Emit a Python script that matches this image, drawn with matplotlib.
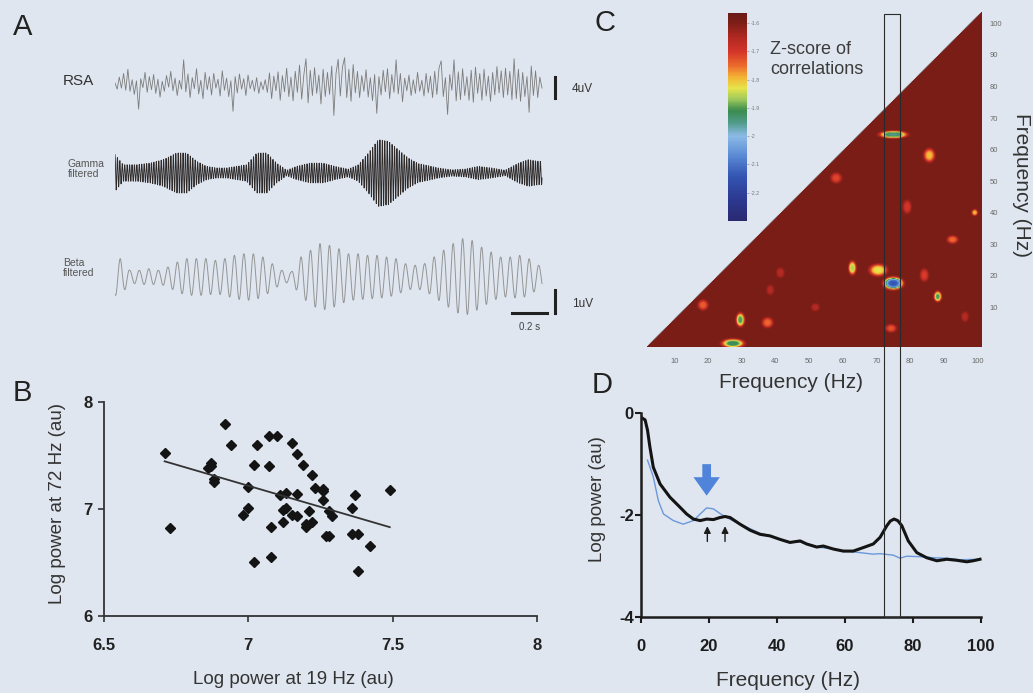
import numpy as np
import matplotlib.pyplot as plt
import matplotlib.transforms as mtransforms
from matplotlib.colors import LinearSegmentedColormap
from matplotlib.patches import Rectangle

plt.rcParams['font.family'] = ['Liberation Sans', 'DejaVu Sans']

W, H = 1033, 693
BG = '#dfe6ef'

# ---- A: example traces (uV) ----
trace_dur = 2.44  # s
rsa_uv = [
    0.4, -0.8, 1.5, -0.6, 2.2, -1.0, 3.0, -1.2, 1.0, -1.8,
    0.8, -4.6, 1.2, -0.5, 2.4, -1.4, 1.6, -0.9, 2.0, -1.6,
    1.1, -2.3, 0.7, -1.2, 1.8, -0.4, 2.6, -1.1, 1.3, -2.0,
    0.9, -0.8, 4.8, -1.3, 2.1, -2.4, 1.4, -0.7, 3.1, -1.7,
    0.9, -2.6, 2.4, -0.9, 1.6, -1.9, 2.2, -0.6, 1.1, -2.1,
    2.7, -1.0, 1.3, -2.2, 0.8, -5.0, 1.6, -1.5, 2.1, -0.8,
    1.2, -2.0, 1.9, -0.7, 0.9, -1.2, 1.4, -1.6, 0.6, -0.9,
    1.0, -1.4, 2.3, -2.6, 1.7, -1.1, 2.5, -2.9, 1.8, -1.3,
    3.2, -2.2, 1.5, -3.0, 2.6, -1.4, 3.8, -2.7, 1.9, 5.0,
    -3.4, 2.8, -2.0, 3.3, -1.6, 1.9, -3.6, 3.0, -2.2, 2.4,
    -1.8, 3.6, -5.8, 2.2, 4.9, -2.1, 3.4, 5.2, -2.4, 3.0,
    -3.1, 3.9, -1.5, 2.6, -2.4, 1.8, -1.2, 2.9, -2.3, 1.4,
    -3.0, 2.0, -5.4, 1.6, -1.9, 2.8, -1.3, 3.1, -2.6, 2.0,
    -1.4, 4.8, -1.7, 2.2, -3.2, 1.3, -1.1, 1.9, -2.0, 1.0,
    -1.6, 2.4, -1.2, 0.9, -2.1, 2.2, -1.5, 1.7, -2.4, 2.6,
    -1.8, 3.2, 4.6, -2.2, 1.4, -5.6, 2.0, -1.0, 4.8, -3.0,
    2.5, -2.8, 3.1, -2.0, 1.6, -2.9, 2.8, -3.3, 3.4, -1.6,
    2.2, -2.9, 3.0, -2.1, 1.7, -3.1, 2.4, -1.9, 3.5, -1.5,
    2.7, -2.4, 3.2, -1.9, 2.6, -2.8, 5.0, -2.6, 3.0, -3.1,
    2.4, -2.2, 1.6, -5.2, 3.6, -2.0, 2.7, -2.4, 1.5, -0.6,
]
gamma_freq = 72.0
gamma_env_t = [0.0, 0.047, 0.124, 0.2, 0.276, 0.352, 0.41, 0.467, 0.524, 0.581,
               0.638, 0.695, 0.752, 0.81, 0.867, 0.924, 0.981, 1.038, 1.114, 1.19,
               1.257, 1.333, 1.39, 1.448, 1.505, 1.562, 1.619, 1.676, 1.733, 1.79,
               1.848, 1.924, 2.0, 2.076, 2.152, 2.229, 2.305, 2.362, 2.419, 2.44]
gamma_env_uv = [0.80, 0.36, 0.36, 0.43, 0.58, 0.87, 0.87, 0.51, 0.29, 0.22,
                0.22, 0.29, 0.36, 0.87, 0.87, 0.43, 0.12, 0.29, 0.43, 0.43,
                0.29, 0.17, 0.36, 0.87, 1.45, 1.38, 1.01, 0.65, 0.41, 0.32,
                0.22, 0.14, 0.17, 0.29, 0.22, 0.12, 0.43, 0.58, 0.51, 0.51]
beta_freq = 18.4
beta_env_uv = [0.80, 0.29, 0.29, 0.36, 0.29, 0.43, 0.65, 0.80, 0.80, 0.80,
               0.72, 0.80, 0.94, 1.01, 1.01, 0.87, 0.58, 0.29, 0.22, 0.87,
               1.16, 1.45, 1.38, 1.23, 1.01, 1.01, 0.94, 0.94, 0.87, 0.80,
               0.58, 0.51, 0.58, 0.87, 1.16, 1.45, 1.67, 1.59, 1.30, 1.09,
               0.87, 0.87, 0.94, 0.80, 0.51]

# ---- B: log power at 19 Hz vs 72 Hz ----
pow19 = [6.71, 6.73, 6.92, 6.94, 7.03, 7.07, 7.10, 7.15, 7.17, 7.19, 7.22, 7.02, 7.07,
         6.87, 6.87, 6.86, 6.88, 6.88, 7.00, 7.00, 6.98, 7.02, 7.08, 7.08, 7.11, 7.13,
         7.17, 7.12, 7.13, 7.15, 7.17, 7.12, 7.21, 7.20, 7.22, 7.20, 7.23, 7.26, 7.26,
         7.26, 7.28, 7.29, 7.27, 7.28, 7.36, 7.37, 7.36, 7.38, 7.42, 7.38, 7.49]
pow72 = [7.52, 6.82, 7.79, 7.60, 7.60, 7.68, 7.68, 7.62, 7.51, 7.41, 7.32, 7.41, 7.40,
         7.43, 7.40, 7.38, 7.28, 7.25, 7.21, 7.01, 6.94, 6.50, 6.55, 6.83, 7.13, 7.15,
         7.14, 6.99, 7.01, 6.94, 6.93, 6.88, 6.98, 6.86, 6.88, 6.83, 7.20, 7.19, 7.17,
         7.08, 6.98, 6.93, 6.75, 6.75, 7.01, 7.13, 6.77, 6.77, 6.65, 6.42, 7.18]
fit_slope, fit_intercept = -0.789, 12.74

# ---- C: z-scored cross-frequency correlations ----
z_base = -1.595
spot_fx = [75.0, 85.7, 58.0, 79.1, 99.2, 92.6, 62.8, 70.5, 75.0, 84.2,
           41.4, 88.2, 96.3, 38.4, 18.4, 29.5, 37.6, 51.8, 74.3, 27.3]
spot_fy = [64.9, 58.3, 51.1, 41.9, 40.1, 31.5, 22.5, 21.8, 17.6, 20.2,
           21.0, 13.4, 7.0, 15.5, 10.7, 6.0, 5.1, 10.0, 3.3, -1.5]
spot_z = [-1.95, -1.80, -1.72, -1.70, -1.80, -1.75, -1.86, -1.83, -2.14, -1.71,
          -1.66, -1.90, -1.66, -1.66, -1.74, -1.90, -1.75, -1.66, -1.73, -1.92]
spot_wx = [3.2, 1.3, 1.3, 1.0, 0.7, 1.3, 0.9, 2.1, 2.2, 1.0,
           1.0, 0.9, 0.9, 0.9, 1.2, 1.0, 1.3, 1.0, 1.3, 2.6]
spot_wy = [0.9, 1.7, 1.3, 1.7, 0.8, 1.0, 1.7, 1.5, 1.5, 1.6,
           1.3, 1.3, 1.3, 1.3, 1.3, 1.7, 1.3, 1.0, 1.0, 1.1]
cbar_ticks = [-1.6, -1.7, -1.8, -1.9, -2.0, -2.1, -2.2]
cbar_labels = ['-1.6', '-1.7', '-1.8', '-1.9', '-2', '-2.1', '-2.2']

# ---- D: power spectra ----
rsa_f = [0.6, 1.3, 2.0, 2.7, 3.7, 5.7, 8.6, 11.6, 13.5, 15.5, 17.5, 19.4, 21.4, 23.3,
         24.8, 26.3, 29.2, 32.2, 35.1, 38.0, 41.0, 43.9, 45.9, 46.9, 48.8, 51.8, 53.7,
         56.7, 59.6, 62.5, 65.5, 68.4, 70.4, 72.4, 73.4, 74.5, 75.6, 76.8, 78.7, 81.2,
         84.1, 87.1, 90.0, 92.9, 95.9, 97.8, 99.8]
rsa_logp = [-0.10, -0.13, -0.33, -0.66, -1.06, -1.39, -1.65, -1.85, -1.98, -2.08, -2.11,
            -2.08, -2.09, -2.05, -2.03, -2.05, -2.18, -2.30, -2.38, -2.41, -2.48, -2.54,
            -2.52, -2.51, -2.57, -2.63, -2.61, -2.67, -2.71, -2.71, -2.64, -2.57, -2.44,
            -2.21, -2.12, -2.08, -2.11, -2.21, -2.51, -2.74, -2.84, -2.90, -2.87, -2.89,
            -2.92, -2.90, -2.87]
base_f = [2.0, 3.7, 5.2, 6.7, 9.6, 12.5, 15.5, 17.5, 19.4, 21.4, 23.3, 25.3, 28.2, 31.2,
          35.1, 38.0, 41.0, 43.9, 46.9, 51.8, 56.7, 60.6, 64.5, 68.4, 70.4, 74.3, 76.3,
          78.2, 82.2, 86.1, 90.0, 93.9, 99.8]
base_logp = [-0.92, -1.25, -1.72, -1.98, -2.11, -2.18, -2.11, -1.98, -1.86, -1.88, -1.97,
             -2.05, -2.15, -2.24, -2.36, -2.41, -2.48, -2.54, -2.53, -2.63, -2.67, -2.71,
             -2.74, -2.77, -2.76, -2.79, -2.85, -2.81, -2.82, -2.84, -2.85, -2.88, -2.87]
beta_peaks = [19.6, 24.8]
band_f = [71.6, 76.3]

fig = plt.figure(figsize=(W / 100, H / 100), dpi=100, facecolor=BG)


def px_axes(x0, y0, x1, y1):
    ax = fig.add_axes([x0 / W, 1 - y1 / H, (x1 - x0) / W, (y1 - y0) / H])
    ax.set_facecolor('none')
    return ax


def px_text(x, y, s, **kw):
    fig.text(x / W, 1 - y / H, s, **kw)


# ---------------- A ----------------
t = np.linspace(0, trace_dur, 6000)
t_rsa = np.linspace(0, trace_dur, len(rsa_uv))
gamma = np.interp(t, gamma_env_t, gamma_env_uv) * np.cos(2 * np.pi * gamma_freq * t)
t_beta = np.linspace(0.03, 2.42, len(beta_env_uv))
beta = np.interp(t, t_beta, beta_env_uv) * np.cos(2 * np.pi * beta_freq * (t - 0.03))

t_max = 445 / 175
axR = px_axes(115, 50, 560, 120)
axR.plot(t_rsa, rsa_uv, color='#7c7c7c', lw=0.6)
axR.set_ylim(-35 / 5.25, 35 / 5.25)
axG = px_axes(115, 130, 560, 216)
axG.plot(t, gamma, color='#2e2a2a', lw=0.65)
axG.set_ylim(-43 / 23, 43 / 23)
axBt = px_axes(115, 225, 560, 335)
axBt.plot(t, beta, color='#959595', lw=0.7)
axBt.set_ylim(-58 / 23, 52 / 23)
for ax in (axR, axG, axBt):
    ax.set_xlim(0, t_max)
    ax.axis('off')

# scale bars
axR.plot([2.514, 2.514], [-2.5, 1.5], color='#222', lw=2.2, clip_on=False)
axBt.plot([2.514, 2.514], [-1.57, -0.57], color='#222', lw=2.2, clip_on=False)
axBt.plot([2.27, 2.47], [-1.57, -1.57], color='#222', lw=2.2, clip_on=False)
px_text(572, 89, '4uV', fontsize=8.5, va='center', color='#333')
px_text(572, 304, '1uV', fontsize=8.5, va='center', color='#333')
px_text(530, 327, '0.2 s', fontsize=7, ha='center', va='center', color='#444')

px_text(63, 81, 'RSA', fontsize=11, va='center', color='#333')
px_text(68, 169, 'Gamma\nfiltered', fontsize=7.5, va='center', color='#555', linespacing=1.0)
px_text(63, 268, 'Beta\nfiltered', fontsize=7.5, va='center', color='#555', linespacing=1.0)

# ---------------- B ----------------
axS = px_axes(104, 402, 537, 616)
axS.plot(pow19, pow72, 'D', ms=4.6, color='#141414', clip_on=False)
xf = np.array([min(pow19), max(pow19)])
axS.plot(xf, fit_slope * xf + fit_intercept, color='#333', lw=1.3)
axS.set_xlim(6.5, 8)
axS.set_ylim(6, 8)
axS.set_xticks([6.5, 7, 7.5, 8])
axS.set_xticklabels(['6.5', '7', '7.5', '8'])
axS.set_yticks([6, 7, 8])
axS.set_yticklabels(['6', '7', '8'])
for s in ('top', 'right'):
    axS.spines[s].set_visible(False)
for s in ('left', 'bottom'):
    axS.spines[s].set_color('#333')
    axS.spines[s].set_linewidth(1.3)
axS.tick_params(axis='both', direction='out', length=4, width=1.2, color='#333',
                labelsize=12, labelcolor='#222')
axS.tick_params(axis='x', pad=12)
axS.tick_params(axis='y', pad=4)
for lab in axS.get_xticklabels() + axS.get_yticklabels():
    lab.set_fontweight('bold')
px_text(57, 503, 'Log power at 72 Hz (au)', fontsize=13.5, rotation=90,
        ha='center', va='center', color='#333')
px_text(293, 679, 'Log power at 19 Hz (au)', fontsize=13.5, ha='center', va='center', color='#333')

# ---------------- C ----------------
stops = [(-2.30, '#2a2870'), (-2.22, '#2c3a92'), (-2.14, '#3456b4'), (-2.07, '#5a8ad4'),
         (-2.00, '#8cbae6'), (-1.95, '#4e9a86'), (-1.91, '#3a8a4e'), (-1.87, '#9cc85c'),
         (-1.83, '#e6e44a'), (-1.79, '#f4b234'), (-1.75, '#ec6a2c'), (-1.70, '#d4342a'),
         (-1.64, '#a82620'), (-1.60, '#7d1e16'), (-1.565, '#6a1c18')]
vmin, vmax = -2.30, -1.565
cmap = LinearSegmentedColormap.from_list(
    'zcorr', [((v - vmin) / (vmax - vmin), c) for v, c in stops])

N = 320
gx = np.linspace(1.9, 101.2, N)
gy = np.linspace(-2.5, 103.7, N)
GX, GY = np.meshgrid(gx, gy)
Z = np.full_like(GX, z_base)
for cx, cy, cz, wx, wy in zip(spot_fx, spot_fy, spot_z, spot_wx, spot_wy):
    q = ((GX - cx) / wx) ** 2 + ((GY - cy) / wy) ** 2
    Z += (cz - z_base) * np.exp(-0.5 * q ** 2)  # flat-topped blobs with a narrow rim
upper = np.arange(N)[:, None] > np.arange(N)[None, :]
Z = np.ma.masked_where(upper, Z)

axC = px_axes(640.6, 11.7, 982.7, 346.7)
im = axC.imshow(Z, origin='lower', extent=[1.9, 101.2, -2.5, 103.7], aspect='auto',
                cmap=cmap, vmin=vmin, vmax=vmax, interpolation='bilinear')
axC.set_xlim(0, 101.5)
axC.set_ylim(-2.5, 103.7)
axC.set_xticks(range(10, 101, 10))
axC.set_yticks(range(10, 101, 10))
axC.yaxis.tick_right()
axC.tick_params(length=0, labelsize=5.5, labelcolor='#6a6a6a')
axC.tick_params(axis='x', pad=8)
axC.tick_params(axis='y', pad=5)
for s in axC.spines.values():
    s.set_visible(False)

cax = px_axes(728, 13, 747, 221)
cb = fig.colorbar(im, cax=cax, ticks=cbar_ticks)
cb.set_ticklabels(cbar_labels)
cb.outline.set_visible(False)
cax.tick_params(labelsize=3.8, length=1.5, width=0.4, color='#777', labelcolor='#777', pad=1)

px_text(770, 49, 'Z-score of', fontsize=13, va='center', color='#3c3c3c')
px_text(770, 69, 'correlations', fontsize=13, va='center', color='#3c3c3c')
px_text(791, 383, 'Frequency (Hz)', fontsize=15, ha='center', va='center', color='#333')
px_text(1021, 185, 'Frequency (Hz)', fontsize=15, rotation=-90, ha='center', va='center',
        color='#333')

# ---------------- D ----------------
axD = px_axes(640.7, 413.3, 980.7, 616.7)
axD.plot(base_f, base_logp, color='#6b98dc', lw=1.0, clip_on=False)
axD.plot(rsa_f, rsa_logp, color='#141414', lw=2.2, clip_on=False)
axD.set_xlim(0, 100)
axD.set_ylim(-4, 0)
axD.set_xticks(range(0, 101, 20))
axD.set_xticklabels([str(v) for v in range(0, 101, 20)])
axD.set_yticks([0, -2, -4])
axD.set_yticklabels(['0', '-2', '-4'])
for s in ('top', 'right'):
    axD.spines[s].set_visible(False)
for s in ('left', 'bottom'):
    axD.spines[s].set_color('#1c1c1c')
    axD.spines[s].set_linewidth(1.8)
axD.tick_params(axis='both', direction='out', length=4, width=1.5, color='#1c1c1c',
                labelsize=12, labelcolor='#1c1c1c')
axD.tick_params(axis='x', pad=12)
axD.tick_params(axis='y', pad=1)
for lab in axD.get_xticklabels() + axD.get_yticklabels():
    lab.set_fontweight('bold')

axD.annotate('', xy=(19.4, -1.62), xytext=(19.4, -1.0),
             arrowprops=dict(arrowstyle='simple,head_length=0.7,head_width=1.0,tail_width=0.33',
                             fc='#4f84da', ec='none', mutation_scale=19,
                             shrinkA=0, shrinkB=0))
for f in beta_peaks:
    axD.annotate('', xy=(f, -2.22), xytext=(f, -2.52),
                 arrowprops=dict(arrowstyle='-|>,head_length=0.5,head_width=0.25',
                                 color='#1c1c1c', lw=1.0, mutation_scale=8,
                                 shrinkA=0, shrinkB=0))

px_text(598, 499, 'Log power (au)', fontsize=13.5, rotation=90, ha='center', va='center',
        color='#333')
px_text(788, 680, 'Frequency (Hz)', fontsize=15, ha='center', va='center', color='#333')

# 72 Hz band marker spanning C and D
band = mtransforms.blended_transform_factory(axD.transData, fig.transFigure)
fig.add_artist(Rectangle((band_f[0], 1 - 616.7 / H), band_f[1] - band_f[0], (616.7 - 14) / H,
                         transform=band, fill=False, ec='#2a2a2a', lw=0.8, zorder=5))

# panel letters
px_text(13, 27, 'A', fontsize=21, va='center', color='#222')
px_text(13, 393, 'B', fontsize=21, va='center', color='#222')
px_text(594, 23, 'C', fontsize=21, va='center', color='#222')
px_text(592, 385, 'D', fontsize=21, va='center', color='#222')

fig.savefig('out.png', dpi=100, facecolor=BG)
